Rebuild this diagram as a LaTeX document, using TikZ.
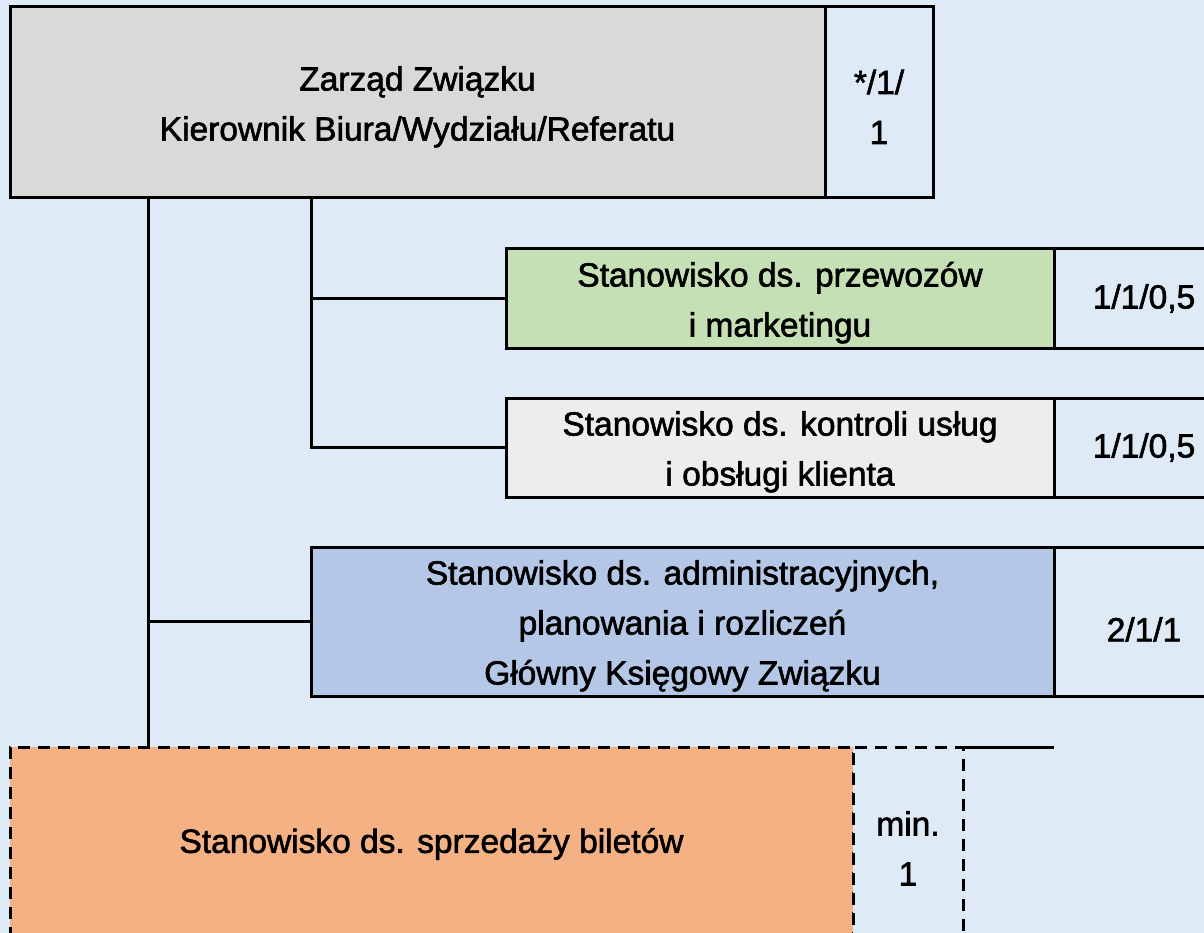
\documentclass[tikz,border=0pt]{standalone}
\usepackage{fontspec}
\setmainfont{Liberation Sans}[FakeBold=1.8]
\definecolor{bgc}{RGB}{222,235,247}
\definecolor{grayc}{RGB}{217,217,217}
\definecolor{greenc}{RGB}{197,224,180}
\definecolor{lgrayc}{RGB}{237,237,237}
\definecolor{bluec}{RGB}{180,199,231}
\definecolor{orangec}{RGB}{244,177,131}
\newcommand\firstln{\rule{0pt}{33pt}}
\begin{document}
\begin{tikzpicture}[x=1pt,y=-1pt,line width=3pt,
  box/.style={draw=black,inner sep=0pt,outer sep=0pt,anchor=north west,align=center,
    font=\fontsize{33.5}{50}\selectfont},
  cnt/.style={box,fill=bgc},
  dsh/.style={dash pattern=on 12pt off 8pt}]
\useasboundingbox (0,0) rectangle (1204,933);
\fill[bgc] (0,0) rectangle (1204,933);
\clip (0,0) rectangle (1204,933);
% top
\node[box,fill=grayc,minimum width=815pt,minimum height=191pt] (top) at (10,7) {\firstln Zarząd Związku\\Kierownik Biura/Wydziału/Referatu};
\node[cnt,minimum width=108pt,minimum height=191pt] (topc) at (top.north east) {\firstln */1/\\1};
% green
\node[box,fill=greenc,minimum width=548pt,minimum height=99pt] (green) at (506,249) {\firstln Stanowisko ds. przewozów\\i marketingu};
\node[cnt,minimum width=180pt,minimum height=99pt] (greenc) at (green.north east) {1/1/0,5};
% light gray
\node[box,fill=lgrayc,minimum width=548pt,minimum height=99pt] (lgray) at (506,398) {\firstln Stanowisko ds. kontroli usług\\i obsługi klienta};
\node[cnt,minimum width=180pt,minimum height=99pt] (lgrayc) at (lgray.north east) {1/1/0,5};
% blue
\node[box,fill=bluec,minimum width=743pt,minimum height=149pt] (blue) at (311,547) {\firstln Stanowisko ds. administracyjnych,\\planowania i rozliczeń\\Główny Księgowy Związku};
\node[cnt,minimum width=180pt,minimum height=149pt] (bluec) at (blue.north east) {\rule{0pt}{40pt}2/1/1};
% orange
\node[box,dsh,fill=orangec,minimum width=843pt,minimum height=194pt] (orange) at (10,747) {Stanowisko ds. sprzedaży biletów};
\node[cnt,dsh,minimum width=110pt,minimum height=194pt] (orangec) at (orange.north east) {\firstln min.\\1};
\coordinate (oend) at (1054,747);
\draw (orangec.north east) -- (oend);
% connectors
\draw ([xshift=138pt]top.south west) -- ([xshift=138pt]orange.north west);
\draw ([xshift=138pt]top.south west) |- (blue.west);
\draw ([xshift=301pt]top.south west) |- (green.west);
\draw ([xshift=301pt]top.south west) |- (lgray.west);
\end{tikzpicture}
\end{document}
